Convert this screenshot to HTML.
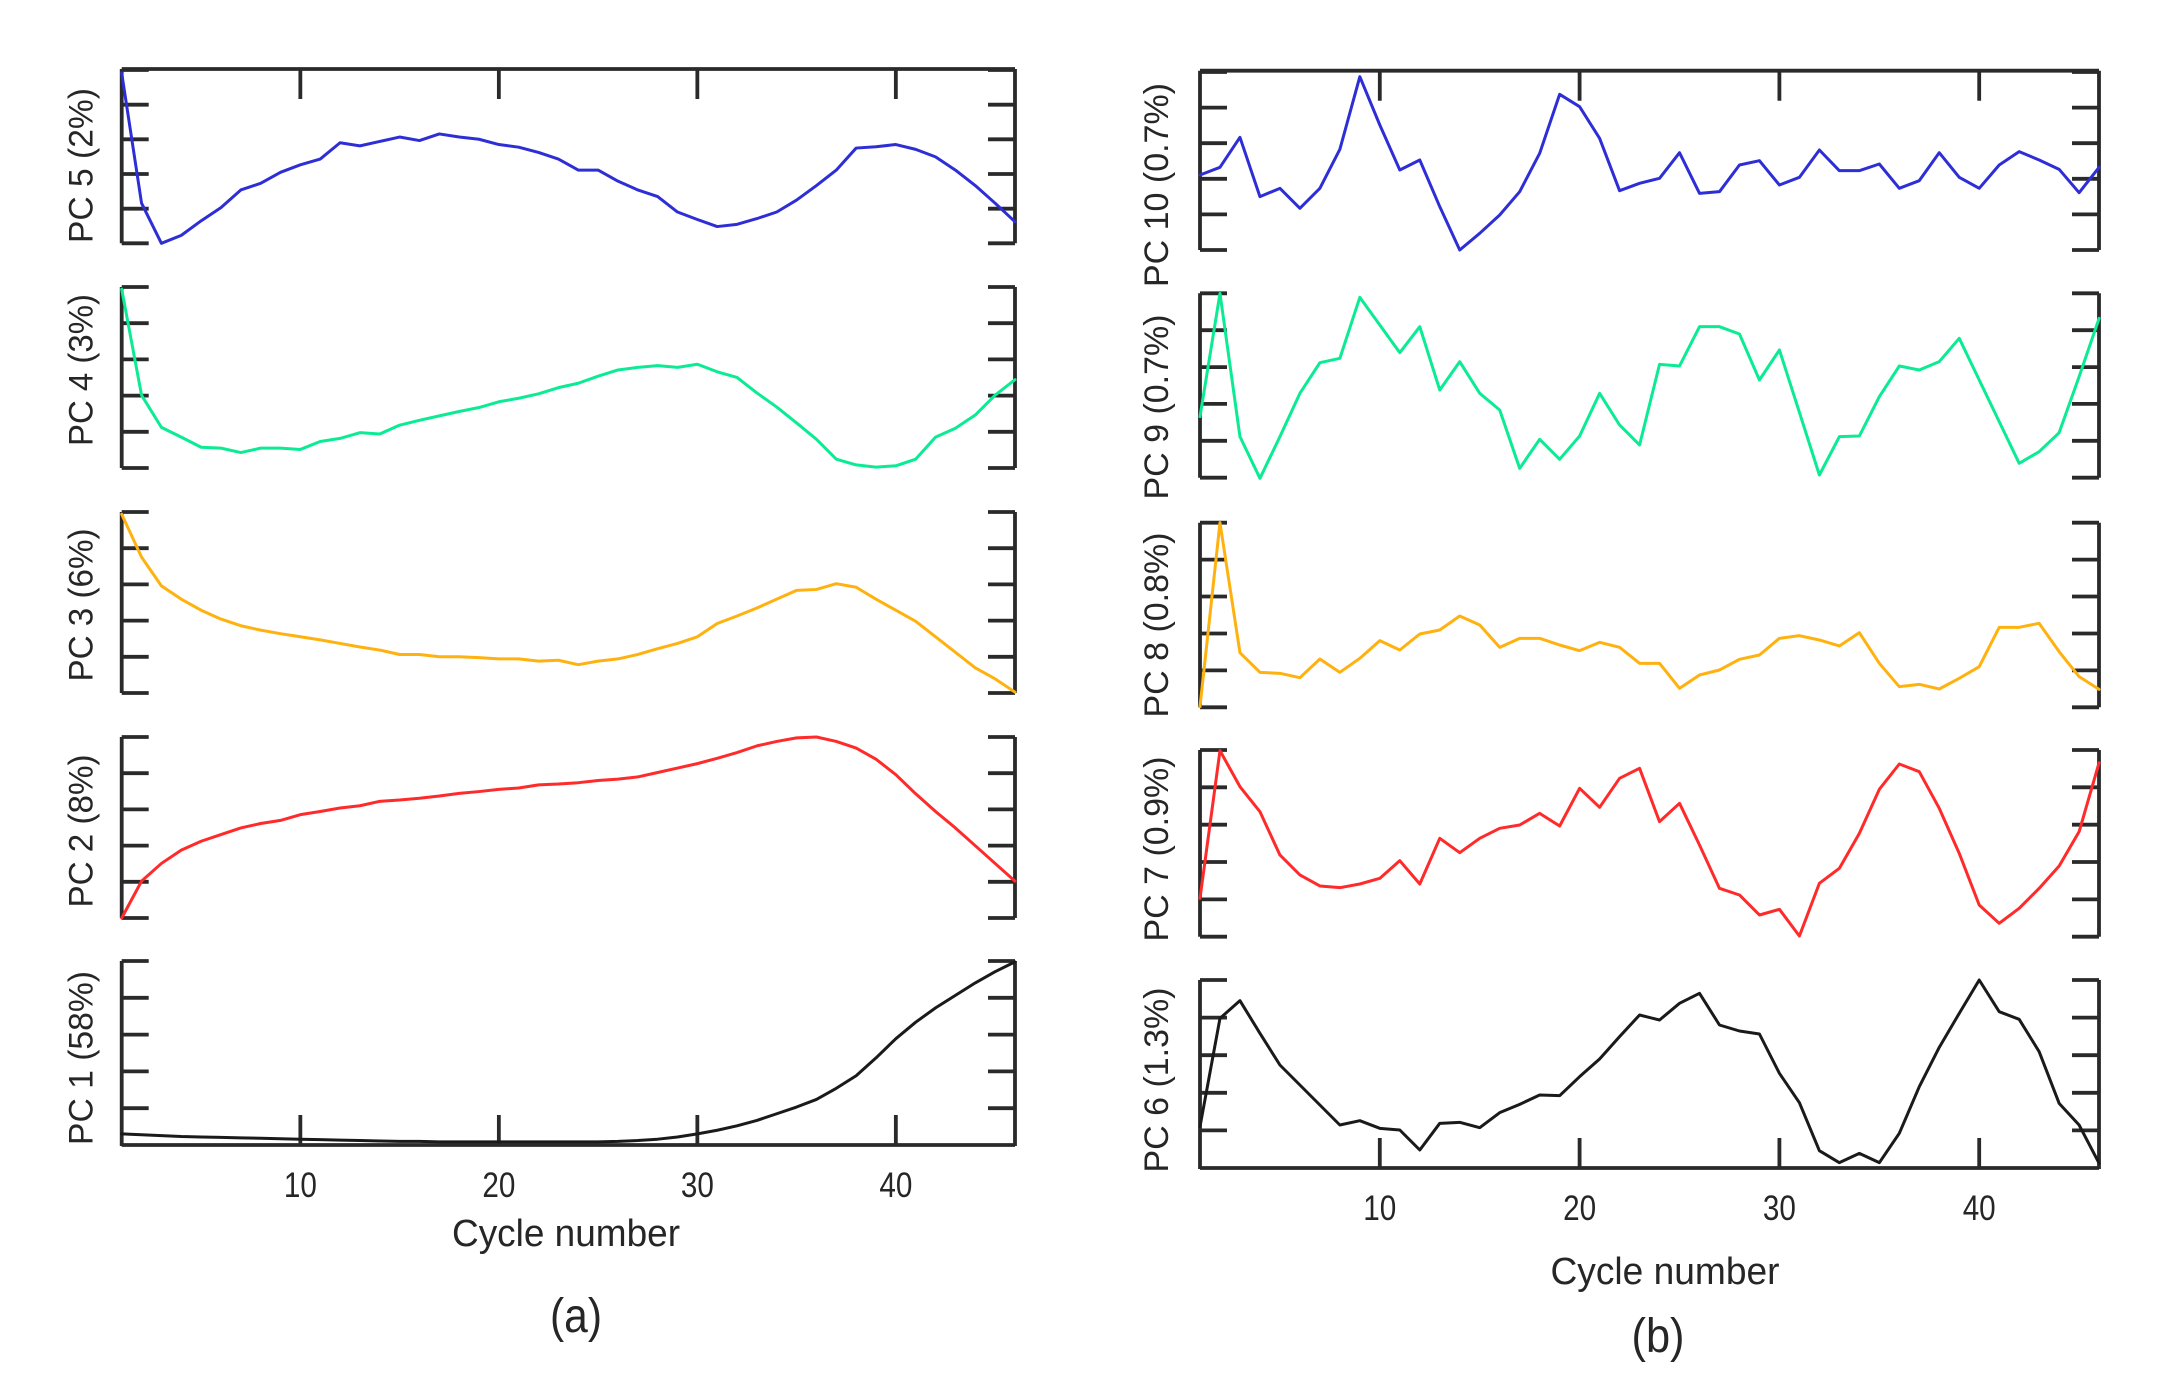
<!DOCTYPE html>
<html><head><meta charset="utf-8"><style>
html,body{margin:0;padding:0;background:#fff;}
svg{display:block;}
text{font-family:"Liberation Sans",Arial,sans-serif;fill:#262626;}
.ax{stroke:#2a2a2a;stroke-width:3.8;fill:none;stroke-linecap:butt;}
.ln{fill:none;stroke-width:3;stroke-linejoin:round;stroke-linecap:round;}
</style></head><body>
<svg width="2165" height="1400" viewBox="0 0 2165 1400" xmlns="http://www.w3.org/2000/svg">
<rect width="2165" height="1400" fill="#fff"/>

<!-- LEFT AXES -->
<path class="ax" d="
M121.7,69 H1015 M300.35,69 v30 M498.85,69 v30 M697.35,69 v30 M895.85,69 v30
M121.7,1145 H1015 M300.35,1145 v-30 M498.85,1145 v-30 M697.35,1145 v-30 M895.85,1145 v-30
M121.7,69 V243.3 M1015,69 V243.3
M121.7,70 h27 M121.7,104.7 h27 M121.7,139.3 h27 M121.7,174 h27 M121.7,208.7 h27 M121.7,243.3 h27
M1015,70 h-27 M1015,104.7 h-27 M1015,139.3 h-27 M1015,174 h-27 M1015,208.7 h-27 M1015,243.3 h-27
M121.7,287 V468 M1015,287 V468
M121.7,287 h27 M121.7,323.2 h27 M121.7,359.4 h27 M121.7,395.6 h27 M121.7,431.8 h27 M121.7,468 h27
M1015,287 h-27 M1015,323.2 h-27 M1015,359.4 h-27 M1015,395.6 h-27 M1015,431.8 h-27 M1015,468 h-27
M121.7,512 V693 M1015,512 V693
M121.7,512 h27 M121.7,548.2 h27 M121.7,584.4 h27 M121.7,620.6 h27 M121.7,656.8 h27 M121.7,693 h27
M1015,512 h-27 M1015,548.2 h-27 M1015,584.4 h-27 M1015,620.6 h-27 M1015,656.8 h-27 M1015,693 h-27
M121.7,737 V918 M1015,737 V918
M121.7,737 h27 M121.7,773.2 h27 M121.7,809.4 h27 M121.7,845.6 h27 M121.7,881.8 h27 M121.7,918 h27
M1015,737 h-27 M1015,773.2 h-27 M1015,809.4 h-27 M1015,845.6 h-27 M1015,881.8 h-27 M1015,918 h-27
M121.7,961 V1146 M1015,961 V1146
M121.7,961 h27 M121.7,997.8 h27 M121.7,1034.6 h27 M121.7,1071.4 h27 M121.7,1108.2 h27 M121.7,1145 h27
M1015,961 h-27 M1015,997.8 h-27 M1015,1034.6 h-27 M1015,1071.4 h-27 M1015,1108.2 h-27 M1015,1145 h-27
"/>

<!-- RIGHT AXES -->
<path class="ax" d="
M1200,70.7 H2099 M1379.8,70.7 v30 M1579.6,70.7 v30 M1779.4,70.7 v30 M1979.2,70.7 v30
M1200,1168 H2099 M1379.8,1168 v-30 M1579.6,1168 v-30 M1779.4,1168 v-30 M1979.2,1168 v-30
M1200,70.7 V250 M2099,70.7 V250
M1200,72 h27 M1200,107.6 h27 M1200,143.2 h27 M1200,178.8 h27 M1200,214.4 h27 M1200,250 h27
M2099,72 h-27 M2099,107.6 h-27 M2099,143.2 h-27 M2099,178.8 h-27 M2099,214.4 h-27 M2099,250 h-27
M1200,293.3 V477.7 M2099,293.3 V477.7
M1200,293.3 h27 M1200,330.2 h27 M1200,367.1 h27 M1200,403.9 h27 M1200,440.8 h27 M1200,477.7 h27
M2099,293.3 h-27 M2099,330.2 h-27 M2099,367.1 h-27 M2099,403.9 h-27 M2099,440.8 h-27 M2099,477.7 h-27
M1200,522.7 V707.3 M2099,522.7 V707.3
M1200,522.7 h27 M1200,559.6 h27 M1200,596.5 h27 M1200,633.5 h27 M1200,670.4 h27 M1200,707.3 h27
M2099,522.7 h-27 M2099,559.6 h-27 M2099,596.5 h-27 M2099,633.5 h-27 M2099,670.4 h-27 M2099,707.3 h-27
M1200,750 V936.7 M2099,750 V936.7
M1200,750 h27 M1200,787.3 h27 M1200,824.7 h27 M1200,862 h27 M1200,899.4 h27 M1200,936.7 h27
M2099,750 h-27 M2099,787.3 h-27 M2099,824.7 h-27 M2099,862 h-27 M2099,899.4 h-27 M2099,936.7 h-27
M1200,980 V1169 M2099,980 V1169
M1200,980 h27 M1200,1017.6 h27 M1200,1055.2 h27 M1200,1092.8 h27 M1200,1130.4 h27 M1200,1168 h27
M2099,980 h-27 M2099,1017.6 h-27 M2099,1055.2 h-27 M2099,1092.8 h-27 M2099,1130.4 h-27 M2099,1168 h-27
"/>

<!-- LEFT SERIES -->
<polyline class="ln" stroke="#2e2ed6" vector-effect="non-scaling-stroke" transform="translate(101.85,2.53) scale(19.85,0.441)"
points="1,160 2,455 3,546 4,528 5,495 6,465 7,425 8,410 9,385 10,368 11,355 12,318 13,325 14,315 15,305 16,313 17,298 18,305 19,310 20,322 21,328 22,340 23,355 24,380 25,380 26,405 27,425 28,440 29,475 30,492 31,508 32,503 33,490 34,475 35,448 36,415 37,380 38,330 39,327 40,322 41,333 42,350 43,380 44,415 45,455 46,497"/>
<polyline class="ln" stroke="#0beb94" stroke-width="3.4" vector-effect="non-scaling-stroke" transform="translate(101.85,4.46) scale(19.85,0.44146)"
points="1,645 2,885 3,958 4,980 5,1003 6,1005 7,1015 8,1005 9,1005 10,1008 11,990 12,983 13,970 14,973 15,953 16,942 17,932 18,922 19,913 20,900 21,892 22,882 23,868 24,858 25,842 26,828 27,822 28,818 29,822 30,815 31,832 32,845 33,880 34,912 35,948 36,985 37,1030 38,1043 39,1048 40,1045 41,1030 42,980 43,960 44,930 45,885 46,850"/>
<polyline class="ln" stroke="#ffb20f" vector-effect="non-scaling-stroke" transform="translate(101.85,6.17) scale(19.85,0.44254)"
points="1,1148 2,1245 3,1310 4,1340 5,1365 6,1385 7,1400 8,1410 9,1418 10,1425 11,1432 12,1440 13,1448 14,1455 15,1465 16,1465 17,1470 18,1470 19,1472 20,1475 21,1475 22,1480 23,1478 24,1488 25,1480 26,1475 27,1465 28,1452 29,1440 30,1425 31,1395 32,1378 33,1360 34,1340 35,1320 36,1318 37,1305 38,1313 39,1340 40,1365 41,1390 42,1425 43,1460 44,1495 45,1520 46,1550"/>
<polyline class="ln" stroke="#ff2a2a" vector-effect="non-scaling-stroke" transform="translate(101.85,701.51) scale(19.85,0.44363)"
points="1,488 2,405 3,365 4,335 5,315 6,300 7,285 8,275 9,268 10,255 11,248 12,240 13,235 14,225 15,222 16,218 17,213 18,207 19,203 20,198 21,195 22,188 23,186 24,183 25,178 26,175 27,170 28,160 29,150 30,140 31,128 32,115 33,100 34,90 35,82 36,80 37,90 38,105 39,130 40,165 41,208 42,248 43,285 44,325 45,365 46,405"/>
<polyline class="ln" stroke="#1a1a1a" vector-effect="non-scaling-stroke" transform="translate(101.85,700.63) scale(19.85,0.4466)"
points="1,970 2,972 3,974 4,976 5,977 6,978 7,979 8,980 9,981 10,982 11,983 12,984 13,985 14,986 15,987 16,987 17,988 18,988 19,988 20,988 21,988 22,988 23,988 24,988 25,988 26,987 27,985 28,982 29,977 30,970 31,962 32,952 33,940 34,925 35,910 36,893 37,868 38,840 39,800 40,757 41,720 42,688 43,660 44,632 45,607 46,585"/>

<!-- RIGHT SERIES -->
<polyline class="ln" stroke="#2e2ed6" vector-effect="non-scaling-stroke" transform="translate(1180.02,60) scale(19.98,0.33333)"
points="1,345 2,322 3,232 4,410 5,385 6,445 7,385 8,268 9,50 10,195 11,330 12,300 13,440 14,570 15,520 16,465 17,395 18,280 19,103 20,140 21,235 22,392 23,370 24,355 25,278 26,400 27,395 28,315 29,302 30,375 31,352 32,270 33,332 34,332 35,312 36,385 37,362 38,278 39,352 40,385 41,315 42,275 43,300 44,328 45,398 46,322"/>
<polyline class="ln" stroke="#0beb94" stroke-width="3.4" vector-effect="non-scaling-stroke" transform="translate(1180.02,60) scale(19.98,0.33333)"
points="1,1070 2,700 3,1130 4,1255 5,1130 6,1000 7,908 8,895 9,712 10,795 11,878 12,800 13,990 14,905 15,1000 16,1050 17,1225 18,1138 19,1198 20,1128 21,1000 22,1095 23,1155 24,913 25,918 26,800 27,800 28,822 29,960 30,870 31,1057 32,1245 33,1130 34,1128 35,1010 36,918 37,930 38,905 39,835 40,960 41,1085 42,1210 43,1175 44,1118 45,950 46,775"/>
<polyline class="ln" stroke="#ffb20f" vector-effect="non-scaling-stroke" transform="translate(1180.02,510) scale(19.98,0.33333)"
points="1,590 2,38 3,428 4,487 5,490 6,503 7,447 8,487 9,445 10,392 11,420 12,372 13,360 14,318 15,345 16,412 17,385 18,385 19,405 20,422 21,397 22,412 23,460 24,460 25,535 26,495 27,480 28,448 29,435 30,385 31,377 32,390 33,408 34,368 35,460 36,530 37,523 38,537 39,505 40,470 41,352 42,352 43,340 44,425 45,500 46,538"/>
<polyline class="ln" stroke="#ff2a2a" vector-effect="non-scaling-stroke" transform="translate(1180.02,510) scale(19.98,0.33333)"
points="1,1165 2,722 3,830 4,905 5,1035 6,1095 7,1128 8,1133 9,1122 10,1105 11,1052 12,1122 13,985 14,1028 15,985 16,955 17,945 18,910 19,948 20,835 21,892 22,805 23,775 24,935 25,880 26,1005 27,1135 28,1155 29,1215 30,1198 31,1278 32,1120 33,1075 34,970 35,838 36,762 37,785 38,895 39,1030 40,1185 41,1240 42,1195 43,1135 44,1068 45,965 46,758"/>
<polyline class="ln" stroke="#1a1a1a" vector-effect="non-scaling-stroke" transform="translate(1180.02,960) scale(19.98,0.33333)"
points="1,500 2,175 3,122 4,220 5,315 6,375 7,435 8,495 9,482 10,505 11,510 12,570 13,490 14,487 15,503 16,458 17,433 18,405 19,407 20,350 21,297 22,230 23,165 24,180 25,130 26,100 27,195 28,213 29,222 30,340 31,428 32,572 33,608 34,580 35,608 36,520 37,380 38,262 39,160 40,60 41,155 42,178 43,275 44,430 45,495 46,610"/>

<!-- LEFT Y LABELS -->
<g font-size="34" text-anchor="middle">
<text transform="translate(92.5,165.5) rotate(-90)" textLength="155" lengthAdjust="spacingAndGlyphs">PC 5 (2%)</text>
<text transform="translate(92.5,370) rotate(-90)" textLength="152" lengthAdjust="spacingAndGlyphs">PC 4 (3%)</text>
<text transform="translate(92.5,605) rotate(-90)" textLength="153" lengthAdjust="spacingAndGlyphs">PC 3 (6%)</text>
<text transform="translate(92.5,831) rotate(-90)" textLength="153" lengthAdjust="spacingAndGlyphs">PC 2 (8%)</text>
<text transform="translate(92.5,1058) rotate(-90)" textLength="174" lengthAdjust="spacingAndGlyphs">PC 1 (58%)</text>
<!-- RIGHT Y LABELS -->
<text transform="translate(1168,185) rotate(-90)" textLength="204" lengthAdjust="spacingAndGlyphs">PC 10 (0.7%)</text>
<text transform="translate(1168,407) rotate(-90)" textLength="185" lengthAdjust="spacingAndGlyphs">PC 9 (0.7%)</text>
<text transform="translate(1168,625) rotate(-90)" textLength="185" lengthAdjust="spacingAndGlyphs">PC 8 (0.8%)</text>
<text transform="translate(1168,849) rotate(-90)" textLength="185" lengthAdjust="spacingAndGlyphs">PC 7 (0.9%)</text>
<text transform="translate(1168,1080) rotate(-90)" textLength="185" lengthAdjust="spacingAndGlyphs">PC 6 (1.3%)</text>
</g>

<!-- TICK LABELS -->
<g font-size="35" text-anchor="middle">
<text x="300.4" y="1197" textLength="33" lengthAdjust="spacingAndGlyphs">10</text>
<text x="498.9" y="1197" textLength="33" lengthAdjust="spacingAndGlyphs">20</text>
<text x="697.4" y="1197" textLength="33" lengthAdjust="spacingAndGlyphs">30</text>
<text x="895.9" y="1197" textLength="33" lengthAdjust="spacingAndGlyphs">40</text>
<text x="1379.8" y="1220" textLength="33" lengthAdjust="spacingAndGlyphs">10</text>
<text x="1579.6" y="1220" textLength="33" lengthAdjust="spacingAndGlyphs">20</text>
<text x="1779.4" y="1220" textLength="33" lengthAdjust="spacingAndGlyphs">30</text>
<text x="1979.2" y="1220" textLength="33" lengthAdjust="spacingAndGlyphs">40</text>
</g>

<!-- AXIS TITLES -->
<g font-size="38" text-anchor="middle">
<text x="566" y="1246" textLength="228" lengthAdjust="spacingAndGlyphs">Cycle number</text>
<text x="1665" y="1284" textLength="229" lengthAdjust="spacingAndGlyphs">Cycle number</text>
</g>
<g font-size="48" text-anchor="middle">
<text x="576" y="1332" textLength="52" lengthAdjust="spacingAndGlyphs">(a)</text>
<text x="1658" y="1352" textLength="53" lengthAdjust="spacingAndGlyphs">(b)</text>
</g>
</svg>
</body></html>
